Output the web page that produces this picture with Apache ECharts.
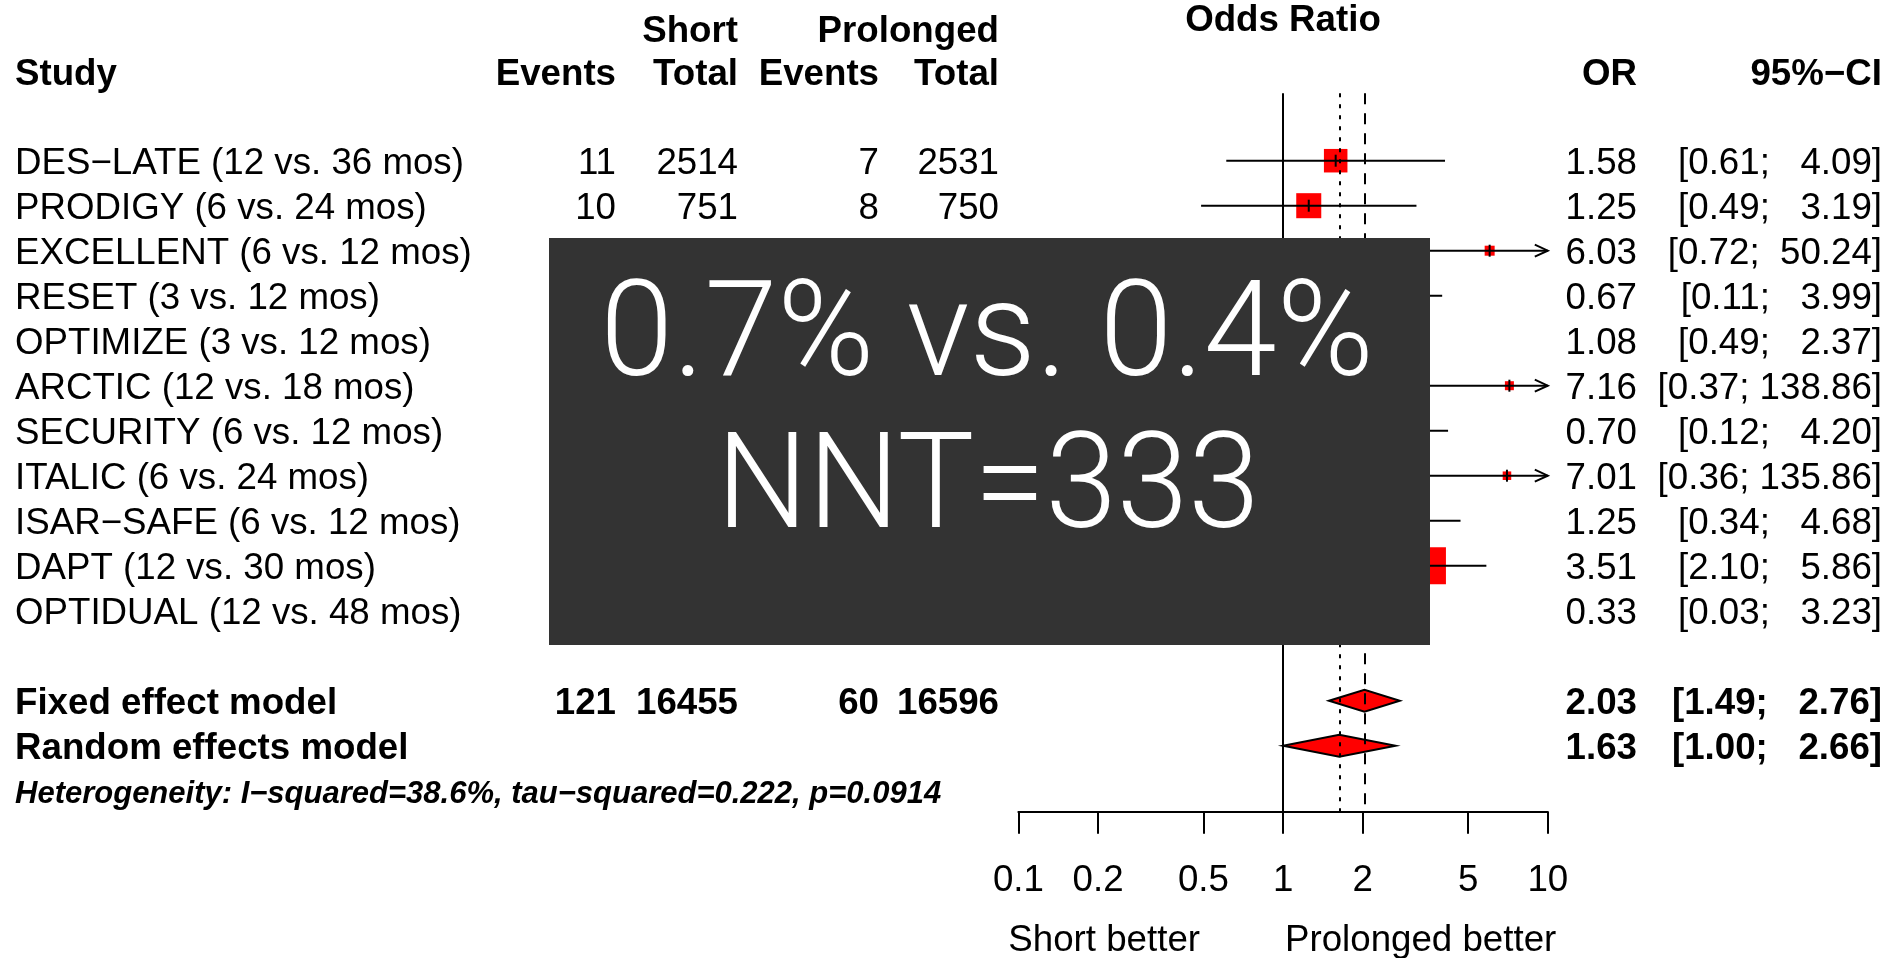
<!DOCTYPE html>
<html>
<head>
<meta charset="utf-8">
<script src="https://cdn.jsdelivr.net/npm/echarts@6/dist/echarts.min.js"></script>
<style>
  html, body { margin: 0; padding: 0; background: #ffffff; }
  #chart { width: 1895px; height: 958px; }
</style>
</head>
<body>
<div id="chart"></div>
<script>
// ---- study data -------------------------------------------------------
const studies = [
  'DES−LATE (12 vs. 36 mos)', 'PRODIGY (6 vs. 24 mos)', 'EXCELLENT (6 vs. 12 mos)',
  'RESET (3 vs. 12 mos)', 'OPTIMIZE (3 vs. 12 mos)', 'ARCTIC (12 vs. 18 mos)',
  'SECURITY (6 vs. 12 mos)', 'ITALIC (6 vs. 24 mos)', 'ISAR−SAFE (6 vs. 12 mos)',
  'DAPT (12 vs. 30 mos)', 'OPTIDUAL (12 vs. 48 mos)'
];
const shortEvents = [11, 10, null, null, null, null, null, null, null, null, null];
const shortTotal  = [2514, 751, null, null, null, null, null, null, null, null, null];
const longEvents  = [7, 8, null, null, null, null, null, null, null, null, null];
const longTotal   = [2531, 750, null, null, null, null, null, null, null, null, null];
const oddsRatio = [1.58, 1.25, 6.03, 0.67, 1.08, 7.16, 0.70, 7.01, 1.25, 3.51, 0.33];
const ciLower   = [0.61, 0.49, 0.72, 0.11, 0.49, 0.37, 0.12, 0.36, 0.34, 2.10, 0.03];
const ciUpper   = [4.09, 3.19, 50.24, 3.99, 2.37, 138.86, 4.20, 135.86, 4.68, 5.86, 3.23];
// fixed-effect weights (%), used for the square areas
const weightFixed = [14.4, 16.3, 2.6, 4.2, 13.6, 2.1, 3.9, 1.9, 5.0, 35.6, 0.4];

// ---- pooled estimates ---------------------------------------------------
const pooledLabels      = ['Fixed effect model', 'Random effects model'];
const pooledShortEvents = [121, null];
const pooledShortTotal  = [16455, null];
const pooledLongEvents  = [60, null];
const pooledLongTotal   = [16596, null];
const pooledOR    = [2.03, 1.63];
const pooledLower = [1.49, 1.00];
const pooledUpper = [2.76, 2.66];
const heterogeneity = 'Heterogeneity: I−squared=38.6%, tau−squared=0.222, p=0.0914';

// ---- headers, axis and annotation text ---------------------------------
const groupHeaders = ['Short', 'Prolonged'];
const columnHeaders = ['Study', 'Events', 'Total', 'Events', 'Total', 'OR', '95%−CI'];
const axisTitle = 'Odds Ratio';
const axisTicks = [0.1, 0.2, 0.5, 1, 2, 5, 10];
const sideLabels = ['Short better', 'Prolonged better'];
const overlayLines = ['0.7% vs. 0.4%', 'NNT=333'];

// ---- layout -------------------------------------------------------------
const FAMILY = '"Liberation Sans", Arial, Helvetica, sans-serif';
const FS = 36.7;
const fontReg = FS + 'px ' + FAMILY;
const fontBold = 'bold ' + FS + 'px ' + FAMILY;
const TEXT_DY = 3.5;      // puts the cap-height centre on the row line
const COL = { name: 15, shortEv: 616, shortTot: 738, longEv: 879, longTot: 999, or: 1637, ci: 1882 };
const X_MIN = 0.1, X_MAX = 10;
const SQUARE_K = 6.2;     // square side = SQUARE_K * sqrt(weight)
const DIAMOND_H = 11;     // half height of pooled diamonds
const ROW_POOLED = 12;    // first pooled row (one blank row after the studies)
const ROW_HET = 14;

function fmtCI(lo, hi) {
  let u = hi.toFixed(2);
  while (u.length < 6) u = ' ' + u;
  return '[' + lo.toFixed(2) + '; ' + u + ']';
}

// table rows (text), one entry per plotted row
const tableRows = [];
studies.forEach((s, i) => tableRows.push({
  row: i, bold: false, cells: [s, shortEvents[i], shortTotal[i], longEvents[i], longTotal[i],
    oddsRatio[i].toFixed(2), fmtCI(ciLower[i], ciUpper[i])]
}));
pooledLabels.forEach((s, j) => tableRows.push({
  row: ROW_POOLED + j, bold: true, cells: [s, pooledShortEvents[j], pooledShortTotal[j],
    pooledLongEvents[j], pooledLongTotal[j], pooledOR[j].toFixed(2), fmtCI(pooledLower[j], pooledUpper[j])]
}));
tableRows.push({ row: ROW_HET, het: true, cells: [heterogeneity] });

const chart = echarts.init(document.getElementById('chart'), null, { renderer: 'canvas' });

function txt(x, y, text, font, align) {
  return {
    type: 'text', x: x, y: y + TEXT_DY, z: 10,
    style: { text: text, font: font, fill: '#000', align: align, verticalAlign: 'middle' }
  };
}

const OVERLAY_FONT = '300 134px Roboto, "Open Sans", sans-serif';
const graphics = [
  txt(COL.shortTot, 28, groupHeaders[0], fontBold, 'right'),
  txt(COL.longTot, 28, groupHeaders[1], fontBold, 'right'),
  txt(COL.name, 71, columnHeaders[0], fontBold, 'left'),
  txt(COL.shortEv, 71, columnHeaders[1], fontBold, 'right'),
  txt(COL.shortTot, 71, columnHeaders[2], fontBold, 'right'),
  txt(COL.longEv, 71, columnHeaders[3], fontBold, 'right'),
  txt(COL.longTot, 71, columnHeaders[4], fontBold, 'right'),
  txt(COL.or, 71, columnHeaders[5], fontBold, 'right'),
  txt(COL.ci, 71, columnHeaders[6], fontBold, 'right'),
  txt(1283, 17, axisTitle, fontBold, 'center'),
  txt(1200, 937, sideLabels[0], fontReg, 'right'),
  txt(1285, 937, sideLabels[1], fontReg, 'left'),
  // dark annotation panel
  { type: 'rect', z: 100, shape: { x: 549, y: 238, width: 881, height: 407 }, style: { fill: '#333333' } },
  { type: 'text', z: 101, x: 987, y: 341, scaleX: 0.98,
    style: { text: overlayLines[0], font: OVERLAY_FONT, fill: '#ffffff', align: 'center', verticalAlign: 'middle' } },
  { type: 'text', z: 101, x: 988, y: 493, scaleX: 0.96,
    style: { text: overlayLines[1], font: OVERLAY_FONT, fill: '#ffffff', align: 'center', verticalAlign: 'middle' } }
];

const option = {
  animation: false,
  backgroundColor: '#ffffff',
  grid: { left: 1018.4, right: 1895 - 1547.8, top: 93.2, bottom: 958 - 811.7, containLabel: false },
  xAxis: {
    type: 'log', logBase: 10, min: X_MIN, max: X_MAX, position: 'bottom',
    axisLine: { show: true, onZero: false, lineStyle: { color: '#000', width: 2 } },
    axisTick: { show: true, customValues: axisTicks, length: 22, inside: false, lineStyle: { color: '#000', width: 2 } },
    axisLabel: { show: true, customValues: axisTicks, formatter: v => String(v), margin: 51,
      fontSize: FS, fontFamily: FAMILY, color: '#000', hideOverlap: false },
    splitLine: { show: false },
    minorTick: { show: false }
  },
  yAxis: {
    type: 'value', inverse: true, min: -1.5, max: -1.5 + (811.7 - 93.2) / 45,
    show: false
  },
  graphic: graphics,
  series: [
    // reference line (OR = 1) and pooled-estimate lines
    {
      type: 'line', data: [], z: 1, silent: true,
      markLine: {
        silent: true, symbol: 'none', animation: false,
        label: { show: false },
        data: [
          { xAxis: 1, lineStyle: { color: '#000', width: 2, type: 'solid' } },
          { xAxis: pooledOR[0], lineStyle: { color: '#000', width: 2, type: [11, 9] } },
          { xAxis: pooledOR[1], lineStyle: { color: '#000', width: 2, type: [4, 7] } }
        ]
      }
    },
    // study squares and confidence intervals
    {
      type: 'custom', z: 3, silent: true,
      data: studies.map((s, i) => [oddsRatio[i], i, ciLower[i], ciUpper[i], weightFixed[i]]),
      encode: { x: 0, y: 1 },
      renderItem: (params, api) => {
        const or = api.value(0), row = api.value(1), lo = api.value(2), hi = api.value(3), w = api.value(4);
        const c = api.coord([or, row]);
        const xl = api.coord([Math.max(lo, X_MIN), row])[0];
        const xr = api.coord([Math.min(hi, X_MAX), row])[0];
        const side = SQUARE_K * Math.sqrt(w);
        const ls = { stroke: '#000', lineWidth: 2 };
        const kids = [
          { type: 'rect', shape: { x: c[0] - side / 2, y: c[1] - side / 2, width: side, height: side }, style: { fill: '#ff0000' } },
          { type: 'line', shape: { x1: xl, y1: c[1], x2: xr, y2: c[1] }, style: ls },
          { type: 'line', shape: { x1: c[0], y1: c[1] - 6, x2: c[0], y2: c[1] + 6 }, style: ls }
        ];
        if (hi > X_MAX) {
          kids.push({ type: 'polyline', shape: { points: [[xr - 13, c[1] - 6], [xr, c[1]], [xr - 13, c[1] + 6]] }, style: { stroke: '#000', lineWidth: 2, fill: null } });
        }
        if (lo < X_MIN) {
          kids.push({ type: 'polyline', shape: { points: [[xl + 13, c[1] - 6], [xl, c[1]], [xl + 13, c[1] + 6]] }, style: { stroke: '#000', lineWidth: 2, fill: null } });
        }
        return { type: 'group', children: kids };
      }
    },
    // pooled diamonds
    {
      type: 'custom', z: 3, silent: true,
      data: pooledOR.map((v, j) => [v, ROW_POOLED + j, pooledLower[j], pooledUpper[j]]),
      encode: { x: 0, y: 1 },
      renderItem: (params, api) => {
        const row = api.value(1);
        const c = api.coord([api.value(0), row]);
        const xl = api.coord([api.value(2), row])[0];
        const xr = api.coord([api.value(3), row])[0];
        return {
          type: 'polygon',
          shape: { points: [[xl, c[1]], [c[0], c[1] - DIAMOND_H], [xr, c[1]], [c[0], c[1] + DIAMOND_H]] },
          style: { fill: '#ff0000', stroke: '#000', lineWidth: 2 }
        };
      }
    },
    // text columns of the table
    {
      type: 'custom', z: 4, silent: true,
      data: tableRows.map(r => [1, r.row]),
      encode: { x: 0, y: 1 },
      renderItem: (params, api) => {
        const r = tableRows[params.dataIndex];
        const y = api.coord([1, api.value(1)])[1] + TEXT_DY;
        if (r.het) {
          return { type: 'text', x: COL.name, y: y,
            style: { text: r.cells[0], font: 'italic bold 31px ' + FAMILY, fill: '#000', align: 'left', verticalAlign: 'middle' } };
        }
        const f = r.bold ? fontBold : fontReg;
        const cols = [COL.name, COL.shortEv, COL.shortTot, COL.longEv, COL.longTot, COL.or, COL.ci];
        const kids = [];
        r.cells.forEach((cell, k) => {
          if (cell === null || cell === undefined) return;
          kids.push({ type: 'text', x: cols[k], y: y,
            style: { text: String(cell), font: f, fill: '#000', align: k === 0 ? 'left' : 'right', verticalAlign: 'middle' } });
        });
        return { type: 'group', children: kids };
      }
    }
  ]
};

chart.setOption(option);
</script>
</body>
</html>
